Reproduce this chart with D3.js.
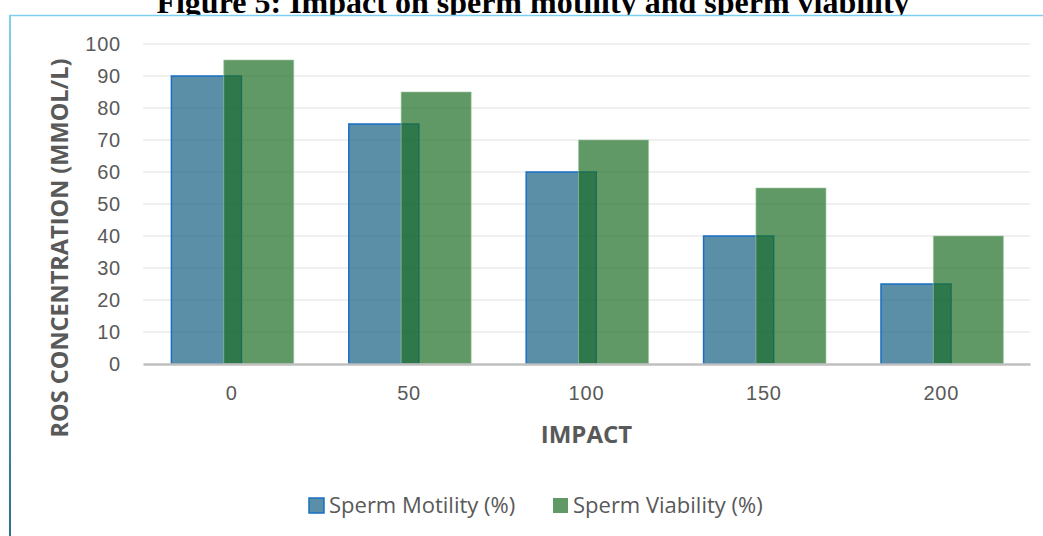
<!DOCTYPE html>
<html>
<head>
<meta charset="utf-8">
<script src="https://cdn.jsdelivr.net/npm/d3@7"></script>
<style>
    body { margin: 0; background: #fff; }
    svg { display: block; }
</style>
</head>
<body>
<div id="chart"></div>
<script>
// chart data
const doses = ["0", "50", "100", "150", "200"];
const motility = [90, 75, 60, 40, 25];
const viability = [95, 85, 70, 55, 40];
const yTicks = [0, 10, 20, 30, 40, 50, 60, 70, 80, 90, 100];
const seriesNames = ["Sperm Motility (%)", "Sperm Viability (%)"];

const width = 1043, height = 536;

const svg = d3.select("#chart").append("svg")
    .attr("width", width)
    .attr("height", height);

// title (its lower edge is hidden under the chart box, like the reference)
svg.append("text")
    .attr("x", 533)
    .attr("y", 13)
    .attr("text-anchor", "middle")
    .style("font-family", "'Liberation Serif', 'Times New Roman', serif")
    .style("font-weight", "bold")
    .style("font-size", "32px")
    .style("fill", "#000")
    .text("Figure 5: Impact on sperm motility and sperm viability");

// chart box
svg.append("rect")
    .attr("x", 9).attr("y", 15)
    .attr("width", width - 9).attr("height", height - 15)
    .attr("fill", "#fff");

const defs = svg.append("defs");
const grad = defs.append("linearGradient")
    .attr("id", "leftEdge")
    .attr("x1", 0).attr("y1", 0).attr("x2", 0).attr("y2", 1);
grad.append("stop").attr("offset", "0%").attr("stop-color", "#7fd0f2");
grad.append("stop").attr("offset", "100%").attr("stop-color", "#2e6f90");

svg.append("rect")
    .attr("x", 9).attr("y", 15)
    .attr("width", 2).attr("height", height - 15)
    .attr("fill", "url(#leftEdge)");
svg.append("line")
    .attr("x1", 9).attr("x2", width)
    .attr("y1", 15.5).attr("y2", 15.5)
    .attr("stroke", "#7fcdf0")
    .attr("stroke-width", 1.5);

// scales
const x = d3.scaleBand().domain(doses).range([143, 1030]);
const y = d3.scaleLinear().domain([0, 100]).range([364, 44]);
const bw = x.bandwidth();

// gridlines
svg.append("g")
    .selectAll("line")
    .data(yTicks.filter(d => d > 0))
    .join("line")
    .attr("x1", 143).attr("x2", 1030)
    .attr("y1", d => y(d)).attr("y2", d => y(d))
    .attr("stroke", "#ebebeb")
    .attr("stroke-width", 1.5);

// y axis labels
const yAxis = svg.append("g")
    .attr("transform", "translate(130,0)")
    .call(d3.axisLeft(y).tickValues(yTicks).tickSize(0).tickPadding(9));
yAxis.select(".domain").remove();
yAxis.selectAll("text")
    .style("font-family", "'Liberation Sans', Arial, sans-serif")
    .style("font-size", "20px")
    .style("letter-spacing", "0.8px")
    .style("fill", "#595959");

// bars
const barW = bw * 0.395;
const groups = svg.append("g")
    .selectAll("g")
    .data(doses)
    .join("g");

groups.append("rect")
    .attr("x", d => x(d) + bw / 2 - bw * 0.34)
    .attr("y", (d, i) => y(motility[i]))
    .attr("width", barW)
    .attr("height", (d, i) => y(0) - y(motility[i]))
    .attr("fill", "rgb(21,95,131)")
    .attr("fill-opacity", 0.7)
    .attr("stroke", "#1a6fc4")
    .attr("stroke-width", 1.5);

groups.append("rect")
    .attr("x", d => x(d) + bw / 2 - bw * 0.045)
    .attr("y", (d, i) => y(viability[i]))
    .attr("width", barW)
    .attr("height", (d, i) => y(0) - y(viability[i]))
    .attr("fill", "rgb(28,109,36)")
    .attr("fill-opacity", 0.7)
    .attr("stroke", "rgba(160,205,160,0.6)")
    .attr("stroke-width", 1);

// x axis
const xAxis = svg.append("g")
    .attr("transform", `translate(0,${y(0)})`)
    .call(d3.axisBottom(x).tickSize(0).tickPadding(22));
xAxis.select(".domain")
    .attr("stroke", "#bfbfbf")
    .attr("stroke-width", 2.5);
xAxis.selectAll("text")
    .style("font-family", "'Liberation Sans', Arial, sans-serif")
    .style("font-size", "20px")
    .style("letter-spacing", "0.8px")
    .style("fill", "#595959");

// axis titles
svg.append("text")
    .attr("x", x("100") + bw / 2)
    .attr("y", 443)
    .attr("text-anchor", "middle")
    .style("font-family", "'Open Sans', sans-serif")
    .style("font-weight", "bold")
    .style("font-size", "24px")
    .style("fill", "#595959")
    .text("IMPACT");

svg.append("text")
    .attr("transform", "translate(68,248) rotate(-90)")
    .attr("text-anchor", "middle")
    .style("font-family", "'Open Sans', sans-serif")
    .style("font-weight", "bold")
    .style("font-size", "23.5px")
    .style("fill", "#595959")
    .text("ROS CONCENTRATION (MMOL/L)");

// legend
const legend = svg.append("g");
const legendX = [309, 553];
const legendFill = ["rgb(21,95,131)", "rgb(28,109,36)"];
const legendStroke = ["#1a6fc4", "none"];
seriesNames.forEach((name, i) => {
    legend.append("rect")
        .attr("x", legendX[i]).attr("y", 498)
        .attr("width", 15).attr("height", 15)
        .attr("fill", legendFill[i])
        .attr("fill-opacity", 0.7)
        .attr("stroke", legendStroke[i])
        .attr("stroke-width", 1.5);
    legend.append("text")
        .attr("x", legendX[i] + 20)
        .attr("y", 513)
        .style("font-family", "'Open Sans', sans-serif")
        .style("font-size", "22px")
        .style("fill", "#595959")
        .text(name);
});
</script>
</body>
</html>
